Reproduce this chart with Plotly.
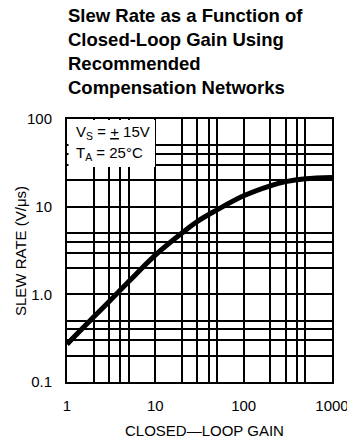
import plotly.graph_objects as go

# Data
gain = [1, 2, 3, 5, 10, 20, 30, 50, 100, 200, 300, 500, 1000]
slew_rate = [0.27, 0.55, 0.83, 1.4, 2.8, 5.0, 6.8, 9.2, 13.3, 17.3, 19.3, 20.8, 21.5]

x_grid = [1, 2, 3, 4, 5, 10, 20, 30, 40, 50, 100, 200, 300, 400, 500, 1000]
x_text = ["1", "", "", "", "", "10", "", "", "", "", "100", "", "", "", "", "1000"]
y_grid = [0.1, 0.2, 0.3, 0.4, 0.5, 1, 2, 3, 4, 5, 10, 20, 30, 40, 50, 100]
y_text = ["0.1", "", "", "", "", "1.0", "", "", "", "", "10", "", "", "", "", "100"]

title_lines = ["Slew Rate as a Function of", "Closed-Loop Gain Using",
               "Recommended", "Compensation Networks"]
x_title = "CLOSED\u2014LOOP GAIN"
y_title = "SLEW RATE (V/\u03bcs)"

W, H = 347, 440
L, R, T, B = 67, 15, 119, 58
pw, ph = W - L - R, H - T - B

def px(xp):
    return (xp - L) / pw

def py(yp):
    return (H - B - yp) / ph

FONT = "Liberation Sans, Arial, Helvetica, sans-serif"

fig = go.Figure()
fig.add_trace(go.Scatter(x=gain, y=slew_rate, mode="lines",
                         line=dict(color="black", width=5, shape="spline", smoothing=1.0),
                         hoverinfo="skip", showlegend=False))

axis_common = dict(type="log", showline=True, mirror=True, linecolor="black", linewidth=2,
                   showgrid=True, gridcolor="black", gridwidth=1.6, zeroline=False,
                   automargin=False, ticklabeloverflow="allow",
                   ticks="", tickfont=dict(size=15, color="black", family=FONT))

fig.update_xaxes(range=[0, 3], tickvals=x_grid, ticktext=x_text,
                 ticklabelstandoff=9, **axis_common)
fig.update_yaxes(range=[-1, 2], tickvals=y_grid, ticktext=y_text,
                 ticklabelstandoff=10, **axis_common)

# axis titles
fig.add_annotation(xref="paper", yref="paper", x=px(204), y=py(430), xanchor="center", yanchor="middle",
                   text=x_title, showarrow=False, font=dict(size=15, color="black", family=FONT))
fig.add_annotation(xref="paper", yref="paper", x=px(20), y=py(251), xanchor="center", yanchor="middle",
                   text=y_title, textangle=-90, showarrow=False,
                   font=dict(size=15, color="black", family=FONT))

# white box behind conditions text
fig.add_shape(type="rect", xref="paper", yref="paper",
              x0=px(68.5), x1=px(155), y0=py(167), y1=py(120),
              fillcolor="white", line=dict(width=0), layer="above")
fig.add_annotation(xref="paper", yref="paper", x=px(74), y=py(132), xanchor="left", yanchor="middle",
                   text="V<sub>S</sub> = <u>+</u> 15V", showarrow=False,
                   font=dict(size=15, color="black", family=FONT))
fig.add_annotation(xref="paper", yref="paper", x=px(74), y=py(153), xanchor="left", yanchor="middle",
                   text="T<sub>A</sub> = 25\u00b0C", showarrow=False,
                   font=dict(size=15, color="black", family=FONT))

fig.add_annotation(xref="paper", yref="paper", x=px(66), y=py(3), xanchor="left", yanchor="top",
                   text="<b>" + "<br>".join(title_lines) + "</b>", align="left", showarrow=False,
                   font=dict(size=18.5, color="black", family=FONT))

fig.update_layout(width=W, height=H, margin=dict(l=L, r=R, t=T, b=B),
                  paper_bgcolor="white", plot_bgcolor="white", showlegend=False)

fig.write_html("out.html", config={"displayModeBar": False},
               post_script="document.body.style.margin='0';document.body.style.overflow='hidden';")
